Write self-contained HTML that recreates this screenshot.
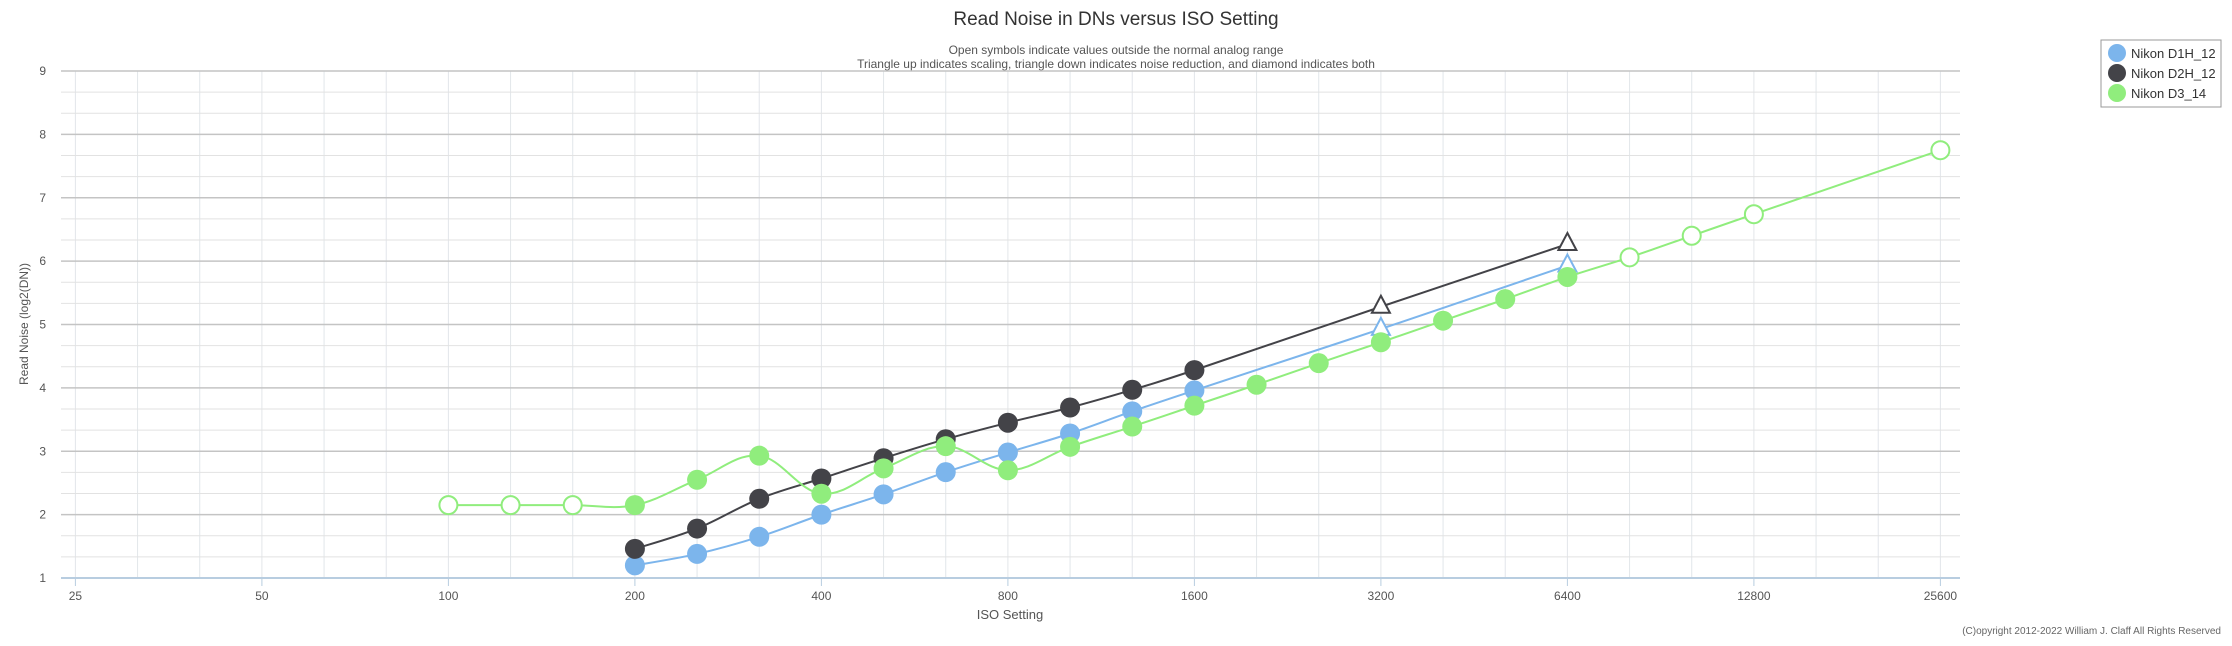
<!DOCTYPE html>
<html><head><meta charset="utf-8"><style>
body{margin:0;background:#fff;font-family:"Liberation Sans",sans-serif;}
svg text{font-family:"Liberation Sans",sans-serif;}
</style></head><body>
<svg id="chart" width="2232" height="641" xmlns="http://www.w3.org/2000/svg">
<text x="1116" y="25" text-anchor="middle" font-size="19" fill="#333">Read Noise in DNs versus ISO Setting</text>
<text x="1116" y="54" text-anchor="middle" font-size="12" fill="#555">Open symbols indicate values outside the normal analog range</text>
<text x="1116" y="68" text-anchor="middle" font-size="12" fill="#555">Triangle up indicates scaling, triangle down indicates noise reduction, and diamond indicates both</text>
<g id="grid"></g>
<g id="series"></g>
<g id="axes"></g>
<text x="1010" y="619" text-anchor="middle" font-size="13" fill="#555">ISO Setting</text>
<text transform="translate(28,324) rotate(-90)" text-anchor="middle" font-size="12" fill="#555">Read Noise (log2(DN))</text>
<text x="2221" y="634" text-anchor="end" font-size="10" fill="#666">(C)opyright 2012-2022 William J. Claff All Rights Reserved</text>
<g>
<rect x="2101" y="40" width="120" height="67" fill="#fff" stroke="#999"/>
<g><circle cx="2117" cy="53" r="9" fill="#7cb5ec"/><text x="2131" y="58" font-size="13" fill="#333">Nikon D1H_12</text></g>
<g><circle cx="2117" cy="73" r="9" fill="#434348"/><text x="2131" y="78" font-size="13" fill="#333">Nikon D2H_12</text></g>
<g><circle cx="2117" cy="93" r="9" fill="#90ed7d"/><text x="2131" y="98" font-size="13" fill="#333">Nikon D3_14</text></g>
</g>
</svg>
<script>
const xTickLabels=[25,50,100,200,400,800,1600,3200,6400,12800,25600];
const yTickLabels=[1,2,3,4,5,6,7,8,9];
const d1hIso=[200,250,320,400,500,640,800,1000,1250,1600,3200,6400];
const d1hVal=[1.2,1.38,1.65,2.0,2.32,2.67,2.98,3.28,3.63,3.96,4.93,5.93];
const d1hOpen=[0,0,0,0,0,0,0,0,0,0,1,1];
const d2hIso=[200,250,320,400,500,640,800,1000,1250,1600,3200,6400];
const d2hVal=[1.46,1.78,2.25,2.57,2.89,3.19,3.45,3.69,3.97,4.28,5.28,6.27];
const d2hOpen=[0,0,0,0,0,0,0,0,0,0,1,1];
const d3Iso=[100,125,160,200,250,320,400,500,640,800,1000,1250,1600,2000,2500,3200,4000,5000,6400,8000,10000,12800,25600];
const d3Val=[2.15,2.15,2.15,2.15,2.55,2.93,2.33,2.73,3.08,2.70,3.07,3.39,3.72,4.05,4.39,4.72,5.06,5.40,5.75,6.06,6.40,6.74,7.75];
const d3Open=[1,1,1,0,0,0,0,0,0,0,0,0,0,0,0,0,0,0,0,1,1,1,1];
const L=61,R=1960,T=71,B=578,X0=75.4,OCT=186.5;
const xs=v=>X0+Math.round(Math.log2(v/25)*3)/3*OCT;
const ys=v=>B-(v-1)*(B-T)/8;
const NS="http://www.w3.org/2000/svg";
function mk(tag,attrs,parent){const e=document.createElementNS(NS,tag);for(const k in attrs)e.setAttribute(k,attrs[k]);parent.appendChild(e);return e;}
const grid=document.getElementById('grid'),axes=document.getElementById('axes'),ser=document.getElementById('series');
for(let i=0;i<=30;i++){const x=X0+i*OCT/3;if(x>R)break;
 const l=mk('line',{x1:x,x2:x,y1:T,y2:B,stroke:'#e2e6ea','stroke-width':1},grid);
 
 }
for(let i=0;i<=24;i++){const y=B-i*(B-T)/24;
 const l=mk('line',{x1:L,x2:R,y1:y,y2:y,stroke:i%3==0?'#c4c4c4':'#e2e2e2','stroke-width':i%3==0?1.5:1},grid);
 
 }
mk('line',{x1:L,x2:R,y1:B,y2:B,stroke:'#b8cde0','stroke-width':2},axes);
xTickLabels.forEach(v=>{const t=mk('text',{x:xs(v),y:B+22,'text-anchor':'middle','font-size':12,fill:'#555'},axes);t.textContent=v;
 
 
 mk('line',{x1:xs(v),x2:xs(v),y1:B,y2:B+8,stroke:'#b8cde0'},axes);});
yTickLabels.forEach(v=>{const t=mk('text',{x:46,y:ys(v)+4,'text-anchor':'end','font-size':12,fill:'#555'},axes);t.textContent=v;
 
 });
function spline(p){let d=`M${p[0][0]},${p[0][1]}`;for(let i=0;i<p.length-1;i++){const p0=p[i-1]||p[i],p1=p[i],p2=p[i+1],p3=p[i+2]||p2;const k=0.18;
 d+=` C${p1[0]+(p2[0]-p0[0])*k},${p1[1]+(p2[1]-p0[1])*k} ${p2[0]-(p3[0]-p1[0])*k},${p2[1]-(p3[1]-p1[1])*k} ${p2[0]},${p2[1]}`;}return d;}
function draw(name,iso,val,open,color,tri){
 const g=mk('g',{},ser);
 const pts=iso.map((v,i)=>[xs(v),ys(val[i])]);
 mk('path',{d:spline(pts),fill:'none',stroke:color,'stroke-width':2},g);
 pts.forEach((p,i)=>{let m;
  if(open[i]&&tri){m=mk('path',{d:`M${p[0]},${p[1]-11} L${p[0]+9},${p[1]+6} L${p[0]-9},${p[1]+6} Z`,fill:'#fff',stroke:color,'stroke-width':2},g);}
  else if(open[i]){m=mk('circle',{cx:p[0],cy:p[1],r:9,fill:'#fff',stroke:color,'stroke-width':2},g);}
  else m=mk('circle',{cx:p[0],cy:p[1],r:10,fill:color},g);
  
  });}
draw('d1h',d1hIso,d1hVal,d1hOpen,'#7cb5ec',true);
draw('d2h',d2hIso,d2hVal,d2hOpen,'#434348',true);
draw('d3',d3Iso,d3Val,d3Open,'#90ed7d',false);
</script>
</body></html>
